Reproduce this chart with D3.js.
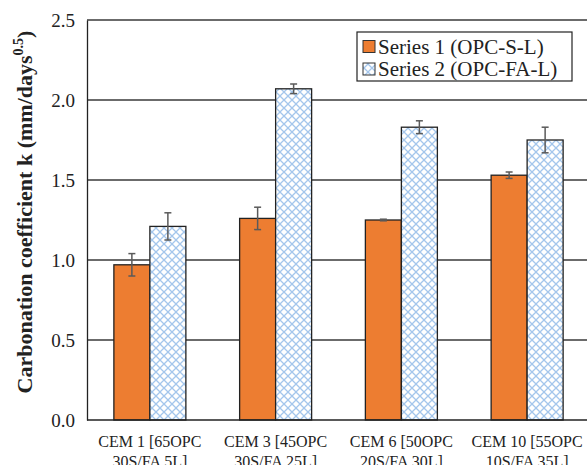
<!DOCTYPE html>
<html><head><meta charset="utf-8">
<script src="https://cdn.jsdelivr.net/npm/d3@7"></script>
<style>body{margin:0;background:#fff}svg{display:block}</style>
</head><body>
<script>
const categories = [["CEM 1 [65OPC","30S/FA 5L]"],["CEM 3 [45OPC","30S/FA 25L]"],["CEM 6 [50OPC","20S/FA 30L]"],["CEM 10 [55OPC","10S/FA 35L]"]];
const seriesNames = ["Series 1 (OPC-S-L)","Series 2 (OPC-FA-L)"];
const series1 = [0.97, 1.26, 1.25, 1.53];
const series1Err = [0.07, 0.07, 0.005, 0.02];
const series2 = [1.21, 2.07, 1.83, 1.75];
const series2Err = [0.085, 0.03, 0.04, 0.08];
const yTicks = [0, 0.5, 1.0, 1.5, 2.0, 2.5];

const W = 587, H = 465;
const m = {left: 87, top: 20, right: -3, bottom: 45};
const FONT = "Liberation Serif, Times New Roman, serif";
const svg = d3.select("body").append("svg").attr("width", W).attr("height", H);
const defs = svg.append("defs");
const pat = defs.append("pattern").attr("id","hatch").attr("patternUnits","userSpaceOnUse").attr("width",8).attr("height",8);
pat.append("rect").attr("width",8).attr("height",8).attr("fill","#fff");
pat.append("path").attr("d","M0,0L8,8M8,0L0,8").attr("stroke","#a4c6ec").attr("stroke-width",1.3);

const x = d3.scaleBand().domain(d3.range(categories.length)).range([m.left, W - m.right]);
const y = d3.scaleLinear().domain([0, 2.5]).range([H - m.bottom, m.top]);
const barW = 36;

// gridlines
svg.append("g").selectAll("line").data(yTicks.slice(1)).join("line")
  .attr("x1", m.left).attr("x2", W - m.right)
  .attr("y1", d => y(d)).attr("y2", d => y(d))
  .attr("stroke", "#3a3a3a").attr("stroke-width", 1.3);

const data = [series1, series2];
const errs = [series1Err, series2Err];
const fills = ["#ed7d31", "url(#hatch)"];
data.forEach((s, si) => {
  const g = svg.append("g");
  g.selectAll("rect").data(s).join("rect")
    .attr("x", (d, i) => x(i) + x.bandwidth()/2 - barW + si*barW)
    .attr("y", d => y(d))
    .attr("width", barW)
    .attr("height", d => y(0) - y(d))
    .attr("fill", fills[si])
    .attr("stroke", "#222").attr("stroke-width", 1.3);
});
data.forEach((s, si) => {
  const g = svg.append("g").attr("stroke", "#5a5a5a").attr("stroke-width", 1.5);
  s.forEach((d, i) => {
    const cx = x(i) + x.bandwidth()/2 - barW/2 + si*barW;
    const e = errs[si][i];
    g.append("line").attr("x1", cx).attr("x2", cx).attr("y1", y(d + e)).attr("y2", y(d - e));
    g.append("line").attr("x1", cx - 3.5).attr("x2", cx + 3.5).attr("y1", y(d + e)).attr("y2", y(d + e));
    g.append("line").attr("x1", cx - 3.5).attr("x2", cx + 3.5).attr("y1", y(d - e)).attr("y2", y(d - e));
  });
});

// axes
const yAxis = svg.append("g").attr("transform", `translate(${m.left},0)`)
  .call(d3.axisLeft(y).tickValues(yTicks).tickFormat(d3.format(".1f")).tickSize(0).tickPadding(12));
yAxis.select(".domain").attr("stroke", "#222").attr("stroke-width", 1.3);
yAxis.selectAll("text").attr("font-family", FONT).attr("font-size", 19).attr("fill", "#222");

svg.append("line").attr("x1", m.left).attr("x2", W - m.right).attr("y1", y(0)).attr("y2", y(0))
  .attr("stroke", "#222").attr("stroke-width", 1.3);

const xl = svg.append("g").attr("font-family", FONT).attr("font-size", 16).attr("fill", "#222").attr("text-anchor", "middle");
categories.forEach((c, i) => {
  const t = xl.append("text").attr("x", x(i) + x.bandwidth()/2).attr("y", 447);
  c.forEach((line, li) => t.append("tspan").attr("x", x(i) + x.bandwidth()/2).attr("dy", li ? 20 : 0).text(line));
});

// y title
const yt = svg.append("text").attr("transform", `translate(32,212) rotate(-90)`)
  .attr("text-anchor", "middle").attr("font-family", FONT)
  .attr("font-weight", "bold").attr("font-size", 22).attr("fill", "#222");
yt.append("tspan").text("Carbonation coefficient k (mm/days");
yt.append("tspan").attr("font-size", 14).attr("dy", -9).text("0.5");
yt.append("tspan").attr("dy", 9).text(")");

// legend
const lg = svg.append("g");
lg.append("rect").attr("x", 357).attr("y", 32).attr("width", 215).attr("height", 49)
  .attr("fill", "#fff").attr("stroke", "#222").attr("stroke-width", 1.2);
seriesNames.forEach((n, i) => {
  const yy = 46.5 + i * 22.5;
  lg.append("rect").attr("x", 363).attr("y", yy - 6).attr("width", 12).attr("height", 12)
    .attr("fill", fills[i]).attr("stroke", "#333").attr("stroke-width", 1);
  lg.append("text").attr("x", 378).attr("y", yy + 7).attr("font-family", FONT)
    .attr("font-size", 21).attr("fill", "#222").text(n);
});
</script>
</body></html>
